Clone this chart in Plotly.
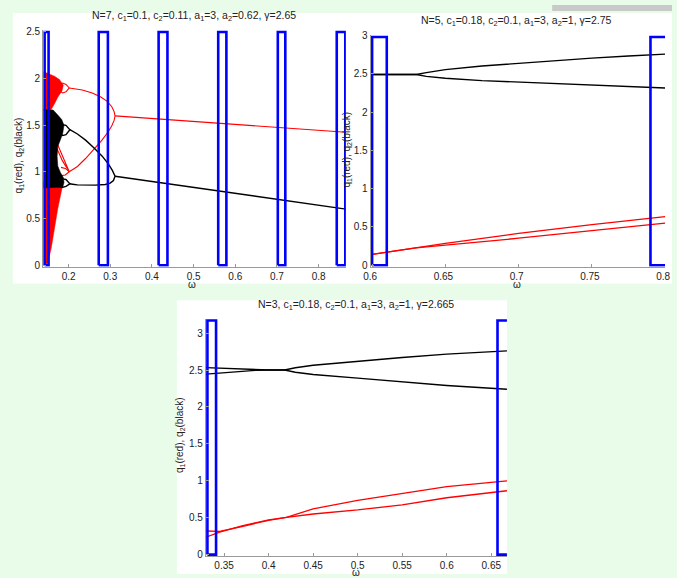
import plotly.graph_objects as go

W, H = 677, 578

# ---------------- Panel 1 : N=7 ----------------
p1_xticks = [0.2, 0.3, 0.4, 0.5, 0.6, 0.7, 0.8]
p1_yticks = [0, 0.5, 1, 1.5, 2, 2.5]
p1_red_main_w = [0.3115, 0.5865, 0.8654]
p1_red_main_q = [1.600, 1.512, 1.424]
p1_red_up_w = [0.3115, 0.3092, 0.3037, 0.2919, 0.2762, 0.2566, 0.2330, 0.2094, 0.2016]
p1_red_up_q = [1.600, 1.646, 1.698, 1.758, 1.804, 1.846, 1.878, 1.895, 1.899]
p1_red_lo_w = [0.3115, 0.3092, 0.3037, 0.2943, 0.2801, 0.2605, 0.2408, 0.2212, 0.2094, 0.2016]
p1_red_lo_q = [1.600, 1.551, 1.494, 1.424, 1.340, 1.241, 1.143, 1.058, 1.020, 1.002]
p1_red_bub1_w = [0.1780, 0.1859, 0.1937, 0.2016, 0.1937, 0.1859, 0.1780]
p1_red_bub1_q = [1.937, 1.951, 1.937, 1.899, 1.857, 1.846, 1.867]
p1_red_bub2_w = [0.1819, 0.1921, 0.2016, 0.1921, 0.1819]
p1_red_bub2_q = [1.048, 1.037, 1.002, 0.967, 0.960]
p1_red_fan_w = [0.1700, 0.1850, 0.2016, 0.1850, 0.1720]
p1_red_fan_q = [1.330, 1.180, 1.002, 1.120, 1.250]
p1_red_chaos_up_w = [0.1400, 0.1527, 0.1661, 0.1780, 0.1874, 0.1843, 0.1741, 0.1662, 0.1584, 0.1400]
p1_red_chaos_up_q = [2.074, 2.053, 2.025, 1.990, 1.930, 1.870, 1.800, 1.730, 1.670, 1.660]
p1_red_chaos_lo_w = [0.1400, 0.1860, 0.1840, 0.1741, 0.1662, 0.1584, 0.1505, 0.1445, 0.1400]
p1_red_chaos_lo_q = [0.890, 0.890, 0.820, 0.607, 0.397, 0.186, 0.030, 0.000, 0.000]
p1_blk_main_w = [0.3115, 0.5865, 0.8654]
p1_blk_main_q = [0.953, 0.777, 0.601]
p1_blk_up_w = [0.3115, 0.3053, 0.2958, 0.2801, 0.2605, 0.2408, 0.2212, 0.2094, 0.2031]
p1_blk_up_q = [0.953, 1.013, 1.083, 1.171, 1.259, 1.340, 1.406, 1.442, 1.452]
p1_blk_lo_w = [0.3115, 0.3076, 0.2998, 0.2880, 0.2644, 0.2408, 0.2212, 0.2094, 0.2031]
p1_blk_lo_q = [0.953, 0.907, 0.879, 0.865, 0.858, 0.858, 0.861, 0.868, 0.872]
p1_blk_bub1_w = [0.1796, 0.1859, 0.1937, 0.2031, 0.1937, 0.1859, 0.1796]
p1_blk_bub1_q = [1.480, 1.505, 1.498, 1.452, 1.399, 1.389, 1.416]
p1_blk_bub2_w = [0.1780, 0.1843, 0.1937, 0.2031, 0.1937, 0.1843, 0.1780]
p1_blk_bub2_q = [0.907, 0.925, 0.918, 0.872, 0.844, 0.833, 0.847]
p1_blk_chaos_w = [0.1400, 0.1630, 0.1740, 0.1835, 0.1890, 0.1859, 0.1804, 0.1741, 0.1725, 0.1741, 0.1804, 0.1874, 0.1890, 0.1859, 0.1400]
p1_blk_chaos_q = [1.670, 1.663, 1.610, 1.560, 1.500, 1.413, 1.343, 1.273, 1.167, 1.062, 0.992, 0.939, 0.886, 0.836, 0.829]
p1_win_lo = [0.1425, 0.2723, 0.4160, 0.5590, 0.7020, 0.8434]
p1_win_hi = [0.1520, 0.2943, 0.4372, 0.5786, 0.7200, 0.8640]
p1_win_top = 2.5

# ---------------- Panel 2 : N=5 ----------------
p2_xticks = [0.6, 0.65, 0.7, 0.75, 0.8]
p2_yticks = [0, 0.5, 1, 1.5, 2, 2.5, 3]
p2_blk_up_w = [0.6, 0.6302, 0.637, 0.65, 0.675, 0.7, 0.725, 0.75, 0.775, 0.8]
p2_blk_up_q = [2.49, 2.49, 2.515, 2.553, 2.600, 2.637, 2.675, 2.704, 2.732, 2.756]
p2_blk_lo_w = [0.6, 0.6302, 0.637, 0.65, 0.675, 0.7, 0.725, 0.75, 0.775, 0.8]
p2_blk_lo_q = [2.49, 2.49, 2.465, 2.440, 2.410, 2.390, 2.370, 2.350, 2.330, 2.314]
p2_red_up_w = [0.6, 0.63, 0.65, 0.7, 0.75, 0.8]
p2_red_up_q = [0.141, 0.227, 0.285, 0.415, 0.530, 0.634]
p2_red_lo_w = [0.6, 0.63, 0.65, 0.7, 0.75, 0.8]
p2_red_lo_q = [0.141, 0.227, 0.262, 0.352, 0.452, 0.549]
p2_win_lo = [0.600, 0.790]
p2_win_hi = [0.610, 0.800]
p2_win_top = 2.98

# ---------------- Panel 3 : N=3 ----------------
p3_xticks = [0.35, 0.4, 0.45, 0.5, 0.55, 0.6, 0.65]
p3_yticks = [0, 0.5, 1, 1.5, 2, 2.5, 3]
p3_blk_up_w = [0.3296, 0.36, 0.385, 0.40, 0.418, 0.43, 0.45, 0.5, 0.55, 0.6, 0.6676]
p3_blk_up_q = [2.533, 2.515, 2.503, 2.50, 2.50, 2.53, 2.565, 2.62, 2.67, 2.715, 2.76]
p3_blk_lo_w = [0.3296, 0.36, 0.385, 0.40, 0.418, 0.43, 0.45, 0.5, 0.55, 0.6, 0.6676]
p3_blk_lo_q = [2.444, 2.475, 2.495, 2.50, 2.50, 2.47, 2.44, 2.39, 2.335, 2.29, 2.24]
p3_red_a_w = [0.3296, 0.345, 0.37, 0.40, 0.42, 0.45, 0.5, 0.55, 0.6, 0.6676]
p3_red_a_q = [0.320, 0.315, 0.380, 0.465, 0.505, 0.620, 0.735, 0.825, 0.920, 1.000]
p3_red_b_w = [0.3296, 0.345, 0.37, 0.40, 0.42, 0.45, 0.5, 0.55, 0.6, 0.6676]
p3_red_b_q = [0.235, 0.305, 0.390, 0.470, 0.505, 0.550, 0.605, 0.675, 0.770, 0.865]
p3_win_lo = [0.3313, 0.6570]
p3_win_hi = [0.3410, 0.6676]
p3_win_top = 3.17

titles = [
    "N=7, c<sub>1</sub>=0.1, c<sub>2</sub>=0.11, a<sub>1</sub>=3, a<sub>2</sub>=0.62, γ=2.65",
    "N=5, c<sub>1</sub>=0.18, c<sub>2</sub>=0.1, a<sub>1</sub>=3, a<sub>2</sub>=1, γ=2.75",
    "N=3, c<sub>1</sub>=0.18, c<sub>2</sub>=0.1, a<sub>1</sub>=3, a<sub>2</sub>=1, γ=2.665",
]
ylabel = "q<sub>1</sub>(red), q<sub>2</sub>(black)"
xlabel = "ω"

RED = "#ff0000"
BLK = "#000000"
BLUE = "#0000ff"
BG = "#e9fce9"
FONT = "Liberation Sans, Arial, Helvetica, sans-serif"

p1x = [0.1390, 0.8653]; p1y = [-0.016, 2.516]
p2x = [0.5990, 0.80005]; p2y = [-0.019, 3.005]
p3x = [0.3296, 0.6676]; p3y = [-0.020, 3.19]

fig = go.Figure()


def dom(lo, hi, ref_val, ref_px, k, vertical=False):
    a = ref_px + (lo - ref_val) * (-k if vertical else k)
    b = ref_px + (hi - ref_val) * (-k if vertical else k)
    if vertical:
        return [1 - a / H, 1 - b / H]
    return [a / W, b / W]


def add(xa, ya, w, q, col, width, fill=False):
    fig.add_trace(go.Scatter(
        x=w, y=q, mode="lines", xaxis=xa, yaxis=ya,
        line=dict(color=col, width=width),
        fill="toself" if fill else "none",
        fillcolor=col if fill else None,
        hoverinfo="skip", showlegend=False))


def windows(xa, ya, lo, hi, top, xmax):
    for a, b in zip(lo, hi):
        if b >= xmax - 1e-3:
            # window reaching the axis end: its right side lies outside the axes
            xs, ys = [b, a, a, b], [0, 0, top, top]
        else:
            xs, ys = [a, a, b, b, a], [0, top, top, 0, 0]
        add(xa, ya, xs, ys, BLUE, 2.6)


# Panel 1
xa, ya = "x", "y"
add(xa, ya, p1_red_chaos_up_w, p1_red_chaos_up_q, RED, 0.5, True)
add(xa, ya, p1_red_chaos_lo_w, p1_red_chaos_lo_q, RED, 0.5, True)
for w, q in [(p1_red_main_w, p1_red_main_q), (p1_red_up_w, p1_red_up_q),
             (p1_red_lo_w, p1_red_lo_q), (p1_red_bub1_w, p1_red_bub1_q),
             (p1_red_bub2_w, p1_red_bub2_q), (p1_red_fan_w, p1_red_fan_q)]:
    add(xa, ya, w, q, RED, 1.1)
add(xa, ya, p1_blk_chaos_w, p1_blk_chaos_q, BLK, 0.5, True)
for w, q in [(p1_blk_main_w, p1_blk_main_q), (p1_blk_up_w, p1_blk_up_q),
             (p1_blk_lo_w, p1_blk_lo_q), (p1_blk_bub1_w, p1_blk_bub1_q),
             (p1_blk_bub2_w, p1_blk_bub2_q)]:
    add(xa, ya, w, q, BLK, 1.4)
windows(xa, ya, p1_win_lo, p1_win_hi, p1_win_top, p1x[1] + 1)

# Panel 2
xa, ya = "x2", "y2"
add(xa, ya, p2_red_up_w, p2_red_up_q, RED, 1.3)
add(xa, ya, p2_red_lo_w, p2_red_lo_q, RED, 1.3)
add(xa, ya, p2_blk_up_w, p2_blk_up_q, BLK, 1.4)
add(xa, ya, p2_blk_lo_w, p2_blk_lo_q, BLK, 1.4)
windows(xa, ya, p2_win_lo, p2_win_hi, p2_win_top, p2x[1])

# Panel 3
xa, ya = "x3", "y3"
add(xa, ya, p3_red_a_w, p3_red_a_q, RED, 1.3)
add(xa, ya, p3_red_b_w, p3_red_b_q, RED, 1.3)
add(xa, ya, p3_blk_up_w, p3_blk_up_q, BLK, 1.4)
add(xa, ya, p3_blk_lo_w, p3_blk_lo_q, BLK, 1.4)
windows(xa, ya, p3_win_lo, p3_win_hi, p3_win_top, p3x[1])

AX = dict(showline=True, linecolor="#9a9a9a", linewidth=1, mirror=False,
          ticks="inside", ticklen=3, tickcolor="#9a9a9a", showgrid=False,
          zeroline=False, tickfont=dict(family=FONT, size=10, color="#222"),
          fixedrange=True)

fig.update_layout(
    width=W, height=H, margin=dict(l=0, r=0, t=0, b=0),
    paper_bgcolor=BG, plot_bgcolor="rgba(0,0,0,0)",
    xaxis=dict(AX, domain=dom(*p1x, 0.2, 62.7, 424.3), range=p1x, tickvals=p1_xticks, anchor="y"),
    yaxis=dict(AX, domain=dom(*p1y, 0.0, 264.3, 94.8, True), range=p1y, tickvals=p1_yticks, anchor="x"),
    xaxis2=dict(AX, domain=dom(*p2x, 0.6, 371.7, 1491.5), range=p2x, tickvals=p2_xticks, anchor="y2",
                ticklabelshift=-2),
    yaxis2=dict(AX, domain=dom(*p2y, 0.0, 264.3, 77.8, True), range=p2y, tickvals=p2_yticks, anchor="x2"),
    xaxis3=dict(AX, domain=dom(*p3x, 0.35, 221.0, 906.7), range=p3x, tickvals=p3_xticks, anchor="y3"),
    yaxis3=dict(AX, domain=dom(*p3y, 0.0, 558.3, 75.0, True), range=p3y, tickvals=p3_yticks, anchor="x3"),
)


def prect(x0, y0, x1, y1, col):
    fig.add_shape(type="rect", xref="paper", yref="paper",
                  x0=x0 / W, x1=x1 / W, y0=1 - y1 / H, y1=1 - y0 / H,
                  fillcolor=col, line=dict(width=0), layer="below")


prect(6, 8, 677, 283, "#ffffff")
prect(173, 300, 509, 578, "#ffffff")
prect(555, 0, 677, 6, "#c9c9c9")


def ann(text, x, y, size=10, angle=0):
    fig.add_annotation(text=text, xref="paper", yref="paper",
                       x=x / W, y=1 - y / H, showarrow=False, textangle=angle,
                       xanchor="center", yanchor="middle",
                       font=dict(family=FONT, size=size, color="#222"))


ann(titles[0], 190, 11, 10.5)
ann(titles[1], 519, 16, 10.5)
ann(titles[2], 355, 305, 10.5)
ann(ylabel, 12, 153, 10, -90)
ann(ylabel, 346, 147, 10, -90)
ann(ylabel, 176, 437, 10, -90)
ann(xlabel, 188, 284, 10)
ann(xlabel, 519, 284, 10)
ann(xlabel, 355, 576, 10)

SIZE_JS = (
    "var d=document.documentElement,b=document.body,gd=document.getElementById('{plot_id}');"
    "[d,b].forEach(function(e){e.style.margin='0';e.style.padding='0';e.style.overflow='hidden';"
    "e.style.width='%dpx';e.style.height='%dpx';e.style.background='%s';});"
    "var p=gd.parentElement;p.style.width='%dpx';p.style.height='%dpx';p.style.overflow='hidden';"
    "p.style.lineHeight='0';p.style.position='absolute';p.style.left='0';p.style.top='0';"
    "gd.style.overflow='hidden';window.scrollTo(0,0);" % (W, H, BG, W, H)
)

fig.write_html("out.html", config={"displayModeBar": False}, post_script=SIZE_JS)
